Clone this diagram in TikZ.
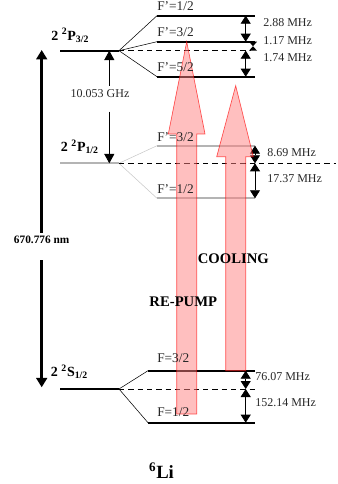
\documentclass[tikz,border=0pt]{standalone}
\usepackage{fontspec}
\setmainfont{Liberation Serif}
\usetikzlibrary{arrows.meta}
\definecolor{lgray}{RGB}{180,180,180}
\definecolor{fgray}{RGB}{200,200,200}
\definecolor{txt}{RGB}{40,40,40}
\begin{document}
\begin{tikzpicture}[x=0.75pt,y=-0.75pt,
  lvl/.style={line width=1.6pt,line cap=butt},
  glvl/.style={line width=1.6pt,draw=lgray},
  fan/.style={line width=0.4pt},
  gfan/.style={line width=0.4pt,draw=fgray},
  dsh/.style={line width=0.7pt,dash pattern=on 4pt off 3pt},
  sarr/.style={line width=0.6pt,{Triangle[width=7.5pt,length=6pt]}-{Triangle[width=7.5pt,length=6pt]}},
  marr/.style={line width=0.6pt,-{Triangle[width=7.5pt,length=7pt]}},
  barr/.style={line width=2.2pt,-{Triangle[width=8pt,length=7pt]}},
  bline/.style={line width=2.2pt},
  laser/.style={fill=red!50,fill opacity=0.5,draw=red,draw opacity=0.65,line width=0.5pt},
  flab/.style={anchor=west,inner sep=0pt,font=\fontsize{10}{12}\selectfont,text=txt},
  mlab/.style={anchor=west,inner sep=0pt,font=\fontsize{9}{11}\selectfont,text=txt},
  tlab/.style={anchor=west,inner sep=0pt,font=\fontsize{10.5}{12}\selectfont\bfseries},
  blab/.style={inner sep=0pt,font=\fontsize{11}{13}\selectfont\bfseries}
]
\useasboundingbox (0,0) rectangle (338,484);

% ---------- coordinates ----------
% 2P3/2
\coordinate (A1) at (60,50.7);   \coordinate (A2) at (119,50.7);
\coordinate (a1L) at (157,15.7); \coordinate (a1R) at (255,15.7);
\coordinate (a3L) at (157,41.7); \coordinate (a3R) at (255,41.7);
\coordinate (a5L) at (157,76.7); \coordinate (a5R) at (255,76.7);
\coordinate (aD) at (251,50.7);
% 2P1/2
\coordinate (B1) at (60,163.3);  \coordinate (B2) at (119,163.3);
\coordinate (b3L) at (157,145.7); \coordinate (b3R) at (255,145.7);
\coordinate (b1L) at (157,198.3); \coordinate (b1R) at (255,198.3);
\coordinate (bD) at (336,163.3);
% 2S1/2
\coordinate (C1) at (60,389);    \coordinate (C2) at (119,389);
\coordinate (c3L) at (148,370.7); \coordinate (c3R) at (255,370.7);
\coordinate (c1L) at (148,422.7); \coordinate (c1R) at (255,422.7);
\coordinate (cD) at (255,389);

% ---------- levels ----------
\draw[lvl] (A1) -- (A2);
\draw[lvl] (a1L) -- (a1R);
\draw[lvl] (a3L) -- (a3R);
\draw[lvl] (a5L) -- (a5R);
\draw[fan] (A2) -- (a1L);
\draw[fan] (A2) -- (a3L);
\draw[fan] (A2) -- (a5L);
\draw[dsh] (A2) -- (aD);

\draw[glvl] (B1) -- (B2);
\draw[glvl] (b3L) -- (b3R);
\draw[glvl] (b1L) -- (b1R);
\draw[gfan] (B2) -- (b3L);
\draw[gfan] (B2) -- (b1L);
\draw[dsh] (B2) -- (bD);

\draw[lvl] (C1) -- (C2);
\draw[lvl] (c3L) -- (c3R);
\draw[lvl] (c1L) -- (c1R);
\draw[fan] (C2) -- (c3L);
\draw[fan] (C2) -- (c1L);
\draw[dsh] (C2) -- (cD);

% ---------- splitting arrows ----------
\coordinate (s1) at (245.7,15.7); \coordinate (s2) at (245.7,41.7);
\coordinate (s3) at (245.7,50.7); \coordinate (s4) at (245.7,76.7);
\draw[sarr] (s1) -- (s2);
\draw[sarr] (s3) -- (s4);
\fill (249,41.7) -- (257,41.7) -- (253,46.2) -- cycle;
\fill (253,46.2) -- (249,50.7) -- (257,50.7) -- cycle;

\coordinate (t1) at (255,145.7); \coordinate (t2) at (255,163.3);
\coordinate (t3) at (255,198.3);
\draw[sarr] (t1) -- (t2);
\draw[sarr] (t2) -- (t3);

\coordinate (u1) at (245.7,370.7); \coordinate (u2) at (245.7,389);
\coordinate (u3) at (245.7,422.7);
\draw[sarr] (u1) -- (u2);
\draw[sarr] (u2) -- (u3);

% ---------- fine-structure arrow ----------
\coordinate (g1) at (109.3,50.7);  \coordinate (g2) at (109.3,85.7);
\coordinate (g3) at (109.3,111.7); \coordinate (g4) at (109.3,163.3);
\draw[marr] (g2) -- (g1);
\draw[marr] (g3) -- (g4);

% ---------- optical arrow ----------
\coordinate (o1) at (41.7,50);   \coordinate (o2) at (41.7,232.7);
\coordinate (o3) at (41.7,260);  \coordinate (o4) at (41.7,387.3);
\draw[barr] (o2) -- (o1);
\draw[barr] (o3) -- (o4);

% ---------- laser arrows ----------
\draw[laser] (176.7,414) -- (176.7,134) -- (168.3,134) -- (186.7,41.7)
  -- (205,134) -- (196.7,134) -- (196.7,414) -- cycle;
\draw[laser] (225.7,370.7) -- (225.7,156.7) -- (216.7,156.7) -- (235.7,85.7)
  -- (253.3,156.7) -- (245.7,156.7) -- (245.7,370.7) -- cycle;

% ---------- labels ----------
\node[flab] (fa1) at (157,6)     {F’=1/2};
\node[flab] (fa3) at (157,32.5)  {F’=3/2};
\node[flab] (fa5) at (157,66.7)  {F’=5/2};
\node[flab] (fb3) at (157,136.7) {F’=3/2};
\node[flab] (fb1) at (157,189)   {F’=1/2};
\node[flab] (fc3) at (157,358.5) {F=3/2};
\node[flab] (fc1) at (157,412.5) {F=1/2};

\node[mlab] (m1) at (263,23)    {2.88 MHz};
\node[mlab] (m2) at (263,41)    {1.17 MHz};
\node[mlab] (m3) at (263,57.5)  {1.74 MHz};
\node[mlab] (m4) at (267,152.7) {8.69 MHz};
\node[mlab] (m5) at (267,179)   {17.37 MHz};
\node[mlab] (m6) at (255,377)   {76.07 MHz};
\node[mlab] (m7) at (255,403)   {152.14 MHz};
\node[mlab,anchor=center] (ghz) at (100,93.3) {10.053 GHz};

\node[tlab] (tA) at (51,35.5)    {2 \textsuperscript{2}P\textsubscript{3/2}};
\node[tlab] (tB) at (60.7,146.7) {2 \textsuperscript{2}P\textsubscript{1/2}};
\node[tlab] (tC) at (50.7,372)   {2 \textsuperscript{2}S\textsubscript{1/2}};

\node[inner sep=0pt,font=\fontsize{8.5}{10}\selectfont\bfseries] (nm) at (41.7,240) {670.776 nm};
\node[blab] (cool) at (233.3,258.3) {COOLING};
\node[blab] (rep) at (183.3,301.7) {RE-PUMP};
\node[inner sep=0pt,font=\fontsize{14}{16}\selectfont\bfseries] (li) at (161.5,471) {\textsuperscript{6}Li};
\end{tikzpicture}
\end{document}
